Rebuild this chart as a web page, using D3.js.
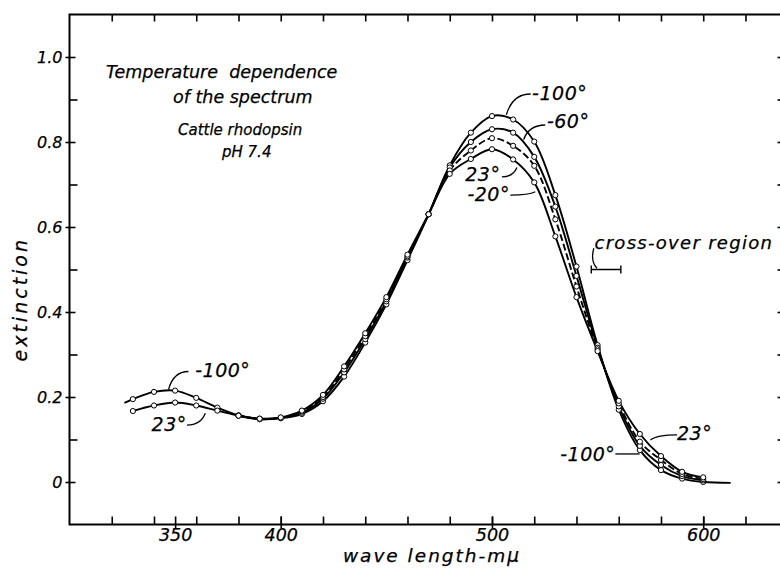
<!DOCTYPE html>
<html>
<head>
<meta charset="utf-8">
<script src="https://cdn.jsdelivr.net/npm/d3@7"></script>
<style>
  body { margin: 0; background: #fff; }
  svg { display: block; }
  text { font-family: "DejaVu Sans", sans-serif; font-style: italic; fill: #000; stroke: #000; stroke-width: 0.25px; }
</style>
</head>
<body>
<svg id="chart" width="780" height="572"></svg>
<script>
// wavelengths (mμ) at which points were measured
const wlFull = [330, 340, 350, 360, 370, 380, 390, 400, 410, 420, 430, 440, 450, 460,
  470, 480, 490, 500, 510, 520, 530, 540, 550, 560, 570, 580, 590, 600];
const wlVis = [380, 390, 400, 410, 420, 430, 440, 450, 460,
  470, 480, 490, 500, 510, 520, 530, 540, 550, 560, 570, 580, 590, 600];
// -100° curve is drawn a little past its first and last points
const wlMinus100 = [326].concat(wlFull, [613]);

// extinction values
const extMinus100 = [0.186,
  0.195, 0.212, 0.215, 0.198, 0.175, 0.157, 0.148, 0.150, 0.160, 0.190, 0.248, 0.328, 0.418, 0.522,
  0.630, 0.745, 0.822, 0.861, 0.853, 0.801, 0.675, 0.507, 0.322, 0.170, 0.075, 0.028, 0.008, 0.000,
  -0.002];
const extMinus60 = [0.156, 0.148, 0.151, 0.163, 0.196, 0.258, 0.336, 0.425, 0.528,
  0.630, 0.740, 0.800, 0.830, 0.822, 0.765, 0.648, 0.485, 0.316, 0.178, 0.085, 0.040, 0.014, 0.004];
const extMinus20 = [0.156, 0.149, 0.151, 0.166, 0.200, 0.265, 0.343, 0.430, 0.531,
  0.630, 0.733, 0.780, 0.809, 0.791, 0.744, 0.618, 0.460, 0.312, 0.185, 0.095, 0.052, 0.019, 0.007];
const ext23 = [0.167, 0.180, 0.187, 0.180, 0.168, 0.156, 0.149, 0.152, 0.168, 0.205, 0.272, 0.350, 0.435, 0.535,
  0.630, 0.725, 0.760, 0.783, 0.759, 0.705, 0.578, 0.435, 0.308, 0.191, 0.113, 0.061, 0.024, 0.011];

const crossOver = [547, 561];   // mμ, marked at extinction 0.5

const xLabelTicks = [350, 400, 500, 600];
const xMinorTicks = d3.range(320, 640, 20);
const yLabelTicks = [0, 0.2, 0.4, 0.6, 0.8, 1.0];
const yMinorTicks = [0.1, 0.3, 0.5, 0.7, 0.9];

const series = [
  { name: "-100", wl: wlMinus100, ext: extMinus100, dash: null },
  { name: "-60", wl: wlVis, ext: extMinus60, dash: null },
  { name: "-20", wl: wlVis, ext: extMinus20, dash: "7,3" },
  { name: "23", wl: wlFull, ext: ext23, dash: null }
];

const svg = d3.select("#chart");
const x = d3.scaleLinear().domain([300, 638]).range([69.5, 783.5]);
const y = d3.scaleLinear().domain([-0.1, 1.1]).range([524.5, 14.5]);

// frame
svg.append("rect")
  .attr("x", x(300)).attr("y", y(1.1))
  .attr("width", x(638) - x(300)).attr("height", y(-0.1) - y(1.1))
  .attr("fill", "none").attr("stroke", "#000").attr("stroke-width", 2);

// bottom axis: minor ticks point inward, labelled ticks cross the line
svg.append("g")
  .attr("transform", `translate(0,${y(-0.1)})`)
  .call(d3.axisTop(x).tickValues(xMinorTicks.concat(xLabelTicks)).tickSize(8).tickFormat(""))
  .call(g => g.select(".domain").remove());
svg.append("g")
  .attr("transform", `translate(0,${y(-0.1)})`)
  .call(d3.axisBottom(x).tickValues(xLabelTicks).tickSize(4).tickPadding(0).tickFormat(d3.format("d")))
  .call(g => g.select(".domain").remove())
  .call(g => g.selectAll("text").attr("font-size", 17.5).attr("font-family", null).attr("fill", null));

// top axis
svg.append("g")
  .attr("transform", `translate(0,${y(1.1)})`)
  .call(d3.axisBottom(x).tickValues(xMinorTicks).tickSize(7).tickFormat(""))
  .call(g => g.select(".domain").remove());

// left axis
svg.append("g")
  .attr("transform", `translate(${x(300)},0)`)
  .call(d3.axisRight(y).tickValues(yMinorTicks).tickSize(8).tickFormat(""))
  .call(g => g.select(".domain").remove());
svg.append("g")
  .attr("transform", `translate(${x(300)},0)`)
  .call(d3.axisLeft(y).tickValues(yLabelTicks).tickSize(4).tickPadding(3)
    .tickFormat(d => d === 0 ? "0" : d3.format(".1f")(d)))
  .call(g => g.select(".domain").remove())
  .call(g => g.selectAll("text").attr("font-size", 16).attr("font-family", null).attr("fill", null));
svg.append("g")
  .attr("transform", `translate(${x(300)},0)`)
  .call(d3.axisRight(y).tickValues(yLabelTicks).tickSize(6).tickFormat(""))
  .call(g => g.select(".domain").remove());

// right axis
svg.append("g")
  .attr("transform", `translate(${x(638)},0)`)
  .call(d3.axisLeft(y).tickValues(yMinorTicks.concat(yLabelTicks)).tickSize(6).tickFormat(""))
  .call(g => g.select(".domain").remove());

svg.selectAll(".tick line").attr("stroke-width", 1.6);

// curves
const line = d3.line()
  .x(d => x(d[0]))
  .y(d => y(d[1]))
  .curve(d3.curveCatmullRom.alpha(0.5));

series.forEach(s => {
  const pts = s.wl.map((w, i) => [w, s.ext[i]]);
  svg.append("path")
    .datum(pts)
    .attr("d", line)
    .attr("fill", "none")
    .attr("stroke", "#000")
    .attr("stroke-width", 1.9)
    .attr("stroke-dasharray", s.dash);
});
series.forEach(s => {
  const pts = s.wl.map((w, i) => [w, s.ext[i]]).filter(d => d[0] % 10 === 0);
  svg.append("g").selectAll("circle")
    .data(pts)
    .join("circle")
    .attr("cx", d => x(d[0]))
    .attr("cy", d => y(d[1]))
    .attr("r", 2.6)
    .attr("fill", "#fff")
    .attr("stroke", "#000")
    .attr("stroke-width", 1);
});

// cross-over bracket
const cy = y(0.5);
svg.append("path")
  .attr("d", `M${x(crossOver[0])},${cy}H${x(crossOver[1])}` +
    `M${x(crossOver[0])},${cy - 4}V${cy + 4}M${x(crossOver[1])},${cy - 4}V${cy + 4}`)
  .attr("stroke", "#000").attr("stroke-width", 1.4).attr("fill", "none");

// annotation text + curved leaders (placed in data units)
const notes = [
  { t: "-100°", at: [519, 0.899], anchor: "start", from: [506.8, 0.864], to: [518.3, 0.913] },
  { t: "-60°", at: [526, 0.833], anchor: "start", from: [515, 0.806], to: [525.2, 0.84] },
  { t: "23°", at: [504, 0.708], anchor: "end", from: [511.8, 0.74], to: [504.7, 0.718] },
  { t: "-20°", at: [508.5, 0.661], anchor: "end", from: [520.5, 0.683], to: [508.7, 0.675] },
  { t: "-100°", at: [359.5, 0.247], anchor: "start", from: [346.9, 0.218], to: [356.3, 0.26] },
  { t: "23°", at: [355.5, 0.12], anchor: "end", from: [364.3, 0.162], to: [355.6, 0.134] },
  { t: "23°", at: [587.6, 0.099], anchor: "start", from: [575, 0.099], to: [587.6, 0.111] },
  { t: "-100°", at: [558.4, 0.049], anchor: "end", from: [569.9, 0.066], to: [558.4, 0.066] }
];
notes.forEach(n => {
  const [x0, y0] = [x(n.from[0]), y(n.from[1])];
  const [x1, y1] = [x(n.to[0]), y(n.to[1])];
  svg.append("path")
    .attr("d", `M${x0},${y0}Q${x0 + (x1 - x0) * 0.25},${y1} ${x1},${y1}`)
    .attr("fill", "none").attr("stroke", "#000").attr("stroke-width", 1.3);
  svg.append("text")
    .attr("x", x(n.at[0])).attr("y", y(n.at[1]))
    .attr("text-anchor", n.anchor)
    .attr("font-size", 19).attr("letter-spacing", 0.5)
    .text(n.t);
});

svg.append("path")
  .attr("d", `M${x(548.2)},${y(0.55)}Q${x(546.5)},${y(0.52)} ${x(549.7)},${y(0.503)}`)
  .attr("fill", "none").attr("stroke", "#000").attr("stroke-width", 1.3);
svg.append("text")
  .attr("x", x(548.5)).attr("y", y(0.548))
  .attr("font-size", 18).attr("letter-spacing", 1.3)
  .text("cross-over region");

// titles
svg.append("text").attr("x", 106).attr("y", 78).attr("font-size", 17.5)
  .attr("xml:space", "preserve").text("Temperature  dependence");
svg.append("text").attr("x", 173).attr("y", 103).attr("font-size", 17.5)
  .text("of the spectrum");
svg.append("text").attr("x", 178).attr("y", 135).attr("font-size", 15)
  .text("Cattle rhodopsin");
svg.append("text").attr("x", 222).attr("y", 157).attr("font-size", 15)
  .text("pH 7.4");

// axis titles
svg.append("text")
  .attr("transform", `translate(27,${y(0.43)}) rotate(-90)`)
  .attr("text-anchor", "middle").attr("font-size", 19).attr("letter-spacing", 3)
  .text("extinction");
svg.append("text")
  .attr("x", 432).attr("y", 562)
  .attr("text-anchor", "middle").attr("font-size", 18.5).attr("letter-spacing", 2)
  .text("wave length-mμ");
</script>
</body>
</html>
